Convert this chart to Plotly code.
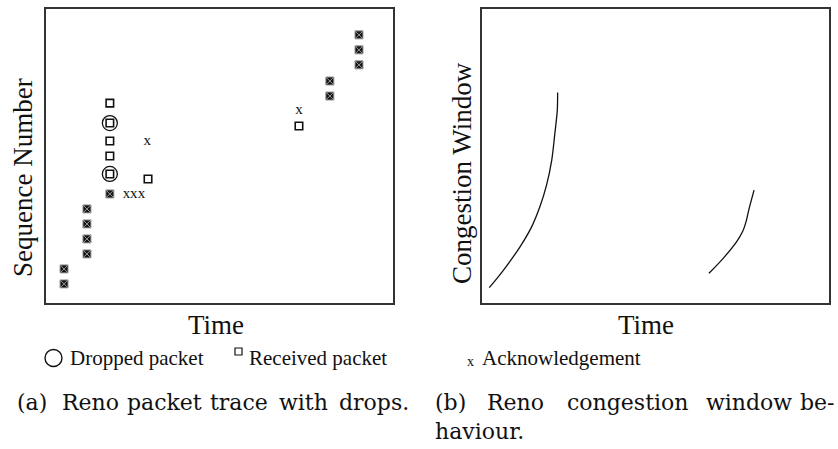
import plotly.graph_objects as go

W, H = 838, 449

# ---------------- data (arbitrary 0-100 units) ----------------
# (a) packet trace: time vs sequence number
acked_time = [5.2, 5.2, 11.8, 11.8, 11.8, 11.8, 18.4, 81.8, 81.8, 90.2, 90.2, 90.2]
acked_seq = [6.5, 11.6, 16.7, 21.8, 26.9, 32.0, 37.1, 70.4, 75.5, 81.0, 86.1, 91.2]

recv_time = [18.4, 18.4, 18.4, 18.4, 18.4, 29.4, 72.9]
recv_seq = [68.0, 61.2, 55.1, 50.0, 43.9, 42.2, 60.2]

drop_time = [18.4, 18.4]
drop_seq = [61.2, 43.9]

ack_time = [23.2, 25.3, 27.5, 29.2, 72.9]
ack_seq = [37.1, 37.1, 37.1, 54.9, 65.6]

# (b) congestion window
cwnd1_time = [2.1, 6.2, 11.0, 14.3, 16.7, 18.6, 20.1, 21.0, 21.7, 21.8]
cwnd1 = [5.2, 11.2, 19.2, 25.9, 32.8, 40.1, 48.6, 57.7, 65.6, 71.6]
cwnd2_time = [65.4, 69.5, 73.4, 75.1, 76.1, 77.0, 78.4]
cwnd2 = [10.1, 15.2, 20.9, 24.3, 27.7, 32.2, 38.4]

axis_title_x = "Time"
axis_title_a = "Sequence Number"
axis_title_b = "Congestion Window"
legend_labels = ["Dropped packet", "Received packet", "Acknowledgement"]
caption_a = ["(a)", "Reno", "packet", "trace", "with", "drops."]
caption_b1 = ["(b)", "Reno", "congestion", "window", "be-"]
caption_b2 = ["haviour."]

# ---------------- layout helpers ----------------
def px(x):
    return x / W

def py(y):
    return 1 - y / H

SERIF = "Liberation Serif"
CAP = "DejaVu Serif"
INK = "#111111"

fig = go.Figure()

fig.add_trace(go.Scatter(x=acked_time, y=acked_seq, mode="markers",
                         marker=dict(symbol="square-x", size=8, color="#141414",
                                     line=dict(color="#9a9a9a", width=1)),
                         xaxis="x", yaxis="y", showlegend=False, hoverinfo="skip"))
fig.add_trace(go.Scatter(x=recv_time, y=recv_seq, mode="markers",
                         marker=dict(symbol="square-open", size=7.5, color=INK,
                                     line=dict(color=INK, width=1.6)),
                         xaxis="x", yaxis="y", showlegend=False, hoverinfo="skip"))
fig.add_trace(go.Scatter(x=drop_time, y=drop_seq, mode="markers",
                         marker=dict(symbol="circle-open", size=15, color=INK,
                                     line=dict(color=INK, width=1.3)),
                         xaxis="x", yaxis="y", showlegend=False, hoverinfo="skip"))
fig.add_trace(go.Scatter(x=ack_time, y=ack_seq, mode="text", text=["x"] * len(ack_time),
                         textposition="middle center",
                         textfont=dict(family=SERIF, size=15, color=INK),
                         xaxis="x", yaxis="y", showlegend=False, hoverinfo="skip"))

fig.add_trace(go.Scatter(x=cwnd1_time, y=cwnd1, mode="lines",
                         line=dict(color=INK, width=1.3, shape="spline", smoothing=0.8),
                         xaxis="x2", yaxis="y2", showlegend=False, hoverinfo="skip"))
fig.add_trace(go.Scatter(x=cwnd2_time, y=cwnd2, mode="lines",
                         line=dict(color=INK, width=1.3, shape="spline", smoothing=0.8),
                         xaxis="x2", yaxis="y2", showlegend=False, hoverinfo="skip"))

ax = dict(range=[0, 100], showticklabels=False, ticks="", showgrid=False, zeroline=False,
          showline=True, mirror=True, linecolor="#333333", linewidth=1.6, fixedrange=True)
ydom = [py(303), py(9)]

annotations = []

def text(t, x, y, size, family=SERIF, xanchor="center", angle=0):
    annotations.append(dict(text=t, x=px(x), y=py(y), xref="paper", yref="paper",
                            showarrow=False, xanchor=xanchor, yanchor="middle",
                            textangle=angle, font=dict(family=family, size=size, color=INK)))

text(axis_title_x, 216, 325, 27)
text(axis_title_x, 646, 325, 27)
text(axis_title_a, 23, 178, 27, angle=-90)
text(axis_title_b, 462, 173, 27, angle=-90)

text(legend_labels[0], 68, 358, 21, xanchor="left")
text(legend_labels[1], 247, 358, 21, xanchor="left")
text("x", 471, 361, 14)
text(legend_labels[2], 480, 358, 21, xanchor="left")

for w, x0 in zip(caption_a, [15, 60, 125, 208, 277, 337]):
    text(w, x0, 402, 22, family=CAP, xanchor="left")
for w, x0 in zip(caption_b1[:-1], [433, 485, 565, 704]):
    text(w, x0, 402, 22, family=CAP, xanchor="left")
text(caption_b1[-1], 837, 402, 22, family=CAP, xanchor="right")
for w, x0 in zip(caption_b2, [433]):
    text(w, x0, 431, 22, family=CAP, xanchor="left")

shapes = [
    dict(type="circle", xref="paper", yref="paper", x0=px(45), x1=px(62), y0=py(366.5), y1=py(349.5),
         line=dict(color=INK, width=1.4)),
    dict(type="rect", xref="paper", yref="paper", x0=px(235), x1=px(242), y0=py(355), y1=py(348),
         line=dict(color=INK, width=1.2)),
]

fig.update_layout(
    width=W, height=H,
    margin=dict(l=0, r=0, t=0, b=0),
    paper_bgcolor="white", plot_bgcolor="white",
    xaxis=dict(ax, domain=[px(46), px(393)]),
    yaxis=dict(ax, domain=ydom),
    xaxis2=dict(ax, domain=[px(482), px(829)], anchor="y2"),
    yaxis2=dict(ax, domain=ydom, anchor="x2"),
    annotations=annotations,
    shapes=shapes,
    showlegend=False,
)

fig.write_html("out.html", config={"displayModeBar": False})
